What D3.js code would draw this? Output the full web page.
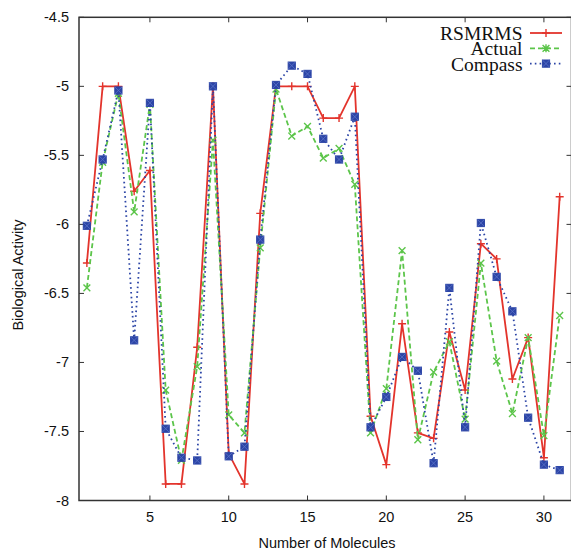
<!DOCTYPE html>
<html>
<head>
<meta charset="utf-8">
<script src="https://cdn.jsdelivr.net/npm/d3@7"></script>
<style>
  html, body { margin: 0; padding: 0; background: #fff; }
  svg { display: block; }
</style>
</head>
<body>
<svg id="chart" width="571" height="550"></svg>
<script>
// Molecule index along the x axis
const molecules = d3.range(1, 32);

// Biological activity per molecule for each method
const rsmrms = [-6.28, -5.00, -5.00, -5.76, -5.61, -7.88, -7.88, -6.89, -5.00, -7.66,
                -7.88, -5.92, -5.00, -5.00, -5.00, -5.23, -5.23, -5.00, -7.39, -7.74,
                -6.72, -7.51, -7.55, -6.78, -7.20, -6.14, -6.25, -7.12, -6.82, -7.69,
                -5.80];
const actual = [-6.46, -5.55, -5.05, -5.91, -5.13, -7.20, -7.71, -7.03, -5.39, -7.38,
                -7.51, -6.17, -5.02, -5.36, -5.29, -5.52, -5.45, -5.71, -7.51, -7.19,
                -6.19, -7.56, -7.07, -6.85, -7.41, -6.28, -6.99, -7.37, -6.82, -7.53,
                -6.66];
const compass = [-6.01, -5.53, -5.03, -6.84, -5.12, -7.48, -7.69, -7.71, -5.00, -7.68,
                 -7.61, -6.11, -4.99, -4.85, -4.91, -5.38, -5.53, -5.22, -7.47, -7.25,
                 -6.96, -7.06, -7.73, -6.46, -7.47, -5.99, -6.38, -6.63, -7.40, -7.74,
                 -7.78];

// Axis tick values
const xTicks = [5, 10, 15, 20, 25, 30];
const yTicks = [-4.5, -5, -5.5, -6, -6.5, -7, -7.5, -8];

const series = [
  { name: "RSMRMS",  values: rsmrms,  color: "#e3342c", dash: null,  marker: "plus",   legendMarker: "plus" },
  { name: "Actual",  values: actual,  color: "#5cc54a", dash: "5,3", marker: "cross",  legendMarker: "star" },
  { name: "Compass", values: compass, color: "#2c45a6", dash: "1.6,3.2", marker: "box", legendMarker: "box" }
];

const svg = d3.select("#chart");
const plotLeft = 79, plotRight = 571.5, plotTop = 17.3, plotBottom = 500.5;

const x = d3.scaleLinear().domain([0.5, 31.75]).range([plotLeft, plotRight]);
const y = d3.scaleLinear().domain([-8, -4.5]).range([plotBottom, plotTop]);

const frameColor = "#333";
const tickFont = "'Liberation Sans', Arial, Helvetica, sans-serif";

// Ticks drawn inward on all four sides
const axG = svg.append("g");
xTicks.forEach(t => {
  axG.append("line").attr("x1", x(t)).attr("x2", x(t)).attr("y1", plotBottom).attr("y2", plotBottom - 5)
    .attr("stroke", frameColor).attr("stroke-width", 1);
  axG.append("line").attr("x1", x(t)).attr("x2", x(t)).attr("y1", plotTop).attr("y2", plotTop + 5)
    .attr("stroke", frameColor).attr("stroke-width", 1);
  axG.append("text").attr("x", x(t)).attr("y", plotBottom + 21)
    .attr("text-anchor", "middle").attr("font-family", tickFont).attr("font-size", 14.5)
    .attr("fill", "#111").text(d3.format("d")(t));
});
yTicks.forEach(t => {
  axG.append("line").attr("x1", plotLeft).attr("x2", plotLeft + 5).attr("y1", y(t)).attr("y2", y(t))
    .attr("stroke", frameColor).attr("stroke-width", 1);
  axG.append("line").attr("x1", plotRight - 5).attr("x2", plotRight).attr("y1", y(t)).attr("y2", y(t))
    .attr("stroke", frameColor).attr("stroke-width", 1);
  axG.append("text").attr("x", plotLeft - 10).attr("y", y(t) + 5)
    .attr("text-anchor", "end").attr("font-family", tickFont).attr("font-size", 14.5)
    .attr("fill", "#111").text(String(t));
});

// Plot frame
svg.append("rect").attr("x", plotLeft).attr("y", plotTop)
  .attr("width", plotRight - plotLeft).attr("height", plotBottom - plotTop)
  .attr("fill", "none").attr("stroke", frameColor).attr("stroke-width", 1.5);

// Axis titles
svg.append("text").attr("x", 327).attr("y", 548)
  .attr("text-anchor", "middle").attr("font-family", tickFont).attr("font-size", 14.5)
  .attr("fill", "#111").text("Number of Molecules");
svg.append("text").attr("transform", `translate(23, 275) rotate(-90)`)
  .attr("text-anchor", "middle").attr("font-family", tickFont).attr("font-size", 14.5)
  .attr("fill", "#111").text("Biological Activity");

// Marker shapes
function drawMarker(g, kind, cx, cy, color) {
  const r = 4;
  if (kind === "plus") {
    g.append("path").attr("d", `M${cx - r},${cy}H${cx + r}M${cx},${cy - r}V${cy + r}`)
      .attr("stroke", color).attr("stroke-width", 1.4).attr("fill", "none");
  } else if (kind === "cross") {
    const s = 3.4;
    g.append("path").attr("d", `M${cx - s},${cy - s}L${cx + s},${cy + s}M${cx - s},${cy + s}L${cx + s},${cy - s}`)
      .attr("stroke", color).attr("stroke-width", 1.4).attr("fill", "none");
  } else if (kind === "star") {
    const s = 3.4;
    g.append("path").attr("d", `M${cx - s},${cy - s}L${cx + s},${cy + s}M${cx - s},${cy + s}L${cx + s},${cy - s}M${cx},${cy - r}V${cy + r}M${cx - r},${cy}H${cx + r}`)
      .attr("stroke", color).attr("stroke-width", 1.4).attr("fill", "none");
  } else if (kind === "box") {
    const s = 3.6;
    g.append("rect").attr("x", cx - s).attr("y", cy - s).attr("width", 2 * s).attr("height", 2 * s)
      .attr("fill", color).attr("stroke", color).attr("stroke-width", 1);
    g.append("path").attr("d", `M${cx - s},${cy - s}L${cx + s},${cy + s}M${cx - s},${cy + s}L${cx + s},${cy - s}`)
      .attr("stroke", "#5a72c8").attr("stroke-width", 0.8).attr("fill", "none");
  }
}

// Series lines and markers
const plotG = svg.append("g");
series.forEach(s => {
  const pts = molecules.map((m, i) => [m, s.values[i]]);
  const line = d3.line().x(d => x(d[0])).y(d => y(d[1]));
  plotG.append("path").datum(pts).attr("d", line)
    .attr("fill", "none").attr("stroke", s.color).attr("stroke-width", 1.8)
    .attr("stroke-dasharray", s.dash).attr("stroke-linejoin", "round");
  const mg = plotG.append("g");
  pts.forEach(p => drawMarker(mg, s.marker, x(p[0]), y(p[1]), s.color));
});

// Legend
const legG = svg.append("g");
series.forEach((s, i) => {
  const by = 40 + i * 15.3;
  legG.append("text").attr("x", 522.5).attr("y", by)
    .attr("text-anchor", "end").attr("font-family", "'Liberation Serif', 'Times New Roman', serif")
    .attr("font-size", 19.5).attr("fill", "#111").text(s.name);
  const ly = by - 7;
  legG.append("line").attr("x1", 530).attr("x2", 562).attr("y1", ly).attr("y2", ly)
    .attr("stroke", s.color).attr("stroke-width", 1.8).attr("stroke-dasharray", s.dash);
  drawMarker(legG, s.legendMarker, 546, ly, s.color);
});
</script>
</body>
</html>
